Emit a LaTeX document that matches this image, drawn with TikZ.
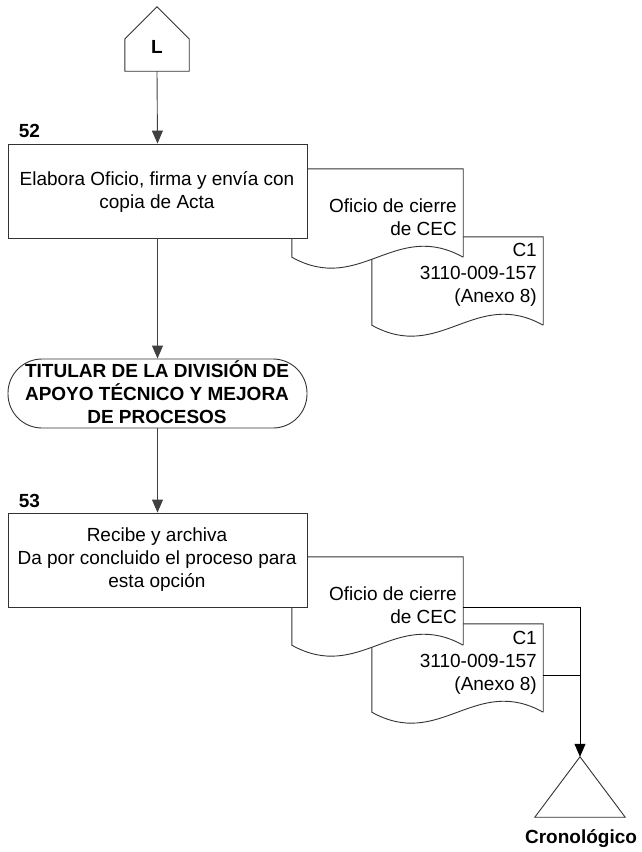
\documentclass[tikz,border=0pt]{standalone}
\usepackage{fontspec}
\setmainfont{Liberation Sans}
\usetikzlibrary{arrows.meta,calc}
\begin{document}
\begin{tikzpicture}[x=1pt,y=-1pt,
  txt/.style={font=\fontsize{19}{23}\selectfont, inner sep=0pt},
  btxt/.style={font=\fontsize{19}{23}\selectfont\bfseries, inner sep=0pt},
  stepbox/.style={draw=black!80, line width=0.9pt, fill=white, minimum width=299pt, minimum height=94pt, inner sep=0pt},
  area/.style={draw=none, inner sep=0pt},
  docline/.style={draw=black!80, line width=0.9pt, fill=white},
  flow/.style={draw=black!75, line width=0.9pt, -{Triangle[length=13pt,width=11pt]}},
  link/.style={draw=black, line width=1pt},
]
\useasboundingbox (0,0) rectangle (642,852);

% off-page connector
\node[area, minimum width=64pt, minimum height=64pt] (offpage) at (157,39) {};
\draw[docline] (offpage.south west) -- (offpage.west) -- (offpage.north)
  -- (offpage.east) -- (offpage.south east) -- cycle;
\node[btxt] (Lbl) at (157,47) {L};

% step 52 with its documents
\node[area, minimum width=171pt, minimum height=88pt] (d2) at (457.5,281) {};
\draw[docline] (d2.south east) -- (d2.north east) -- (d2.north west) -- (d2.south west)
  .. controls +(68.4,38) and +(-68.4,-38) .. (d2.south east);
\node[txt, align=right, anchor=east] (t2) at (537,275) {C1\\3110-009-157\\(Anexo 8)};

\node[area, minimum width=171pt, minimum height=88pt] (d1) at (377.5,213) {};
\draw[docline] (d1.south east) -- (d1.north east) -- (d1.north west) -- (d1.south west)
  .. controls +(68.4,38) and +(-68.4,-38) .. (d1.south east);
\node[txt, align=right, anchor=east] (t1) at (457,217.5) {Oficio de cierre\\de CEC};

\node[stepbox] (b52) at (157.5,191) {};
\node[txt, align=center] (t52) at (157,192) {Elabora Oficio, firma y envía con\\copia de Acta};
\node[btxt, anchor=base] (n52) at (29.5,137) {52};

% responsible area
\node[draw=black!80, line width=0.9pt, fill=white, rounded corners=34pt,
  minimum width=299pt, minimum height=69pt, inner sep=0pt] (term) at (157.5,393.5) {};
\node[btxt, align=center] (tterm) at (157,392.5)
  {TITULAR DE LA DIVISIÓN DE\\APOYO TÉCNICO Y MEJORA\\DE PROCESOS};

% step 53 with its documents
\node[area, minimum width=171pt, minimum height=88pt] (d4) at (457.5,668) {};
\draw[docline] (d4.south east) -- (d4.north east) -- (d4.north west) -- (d4.south west)
  .. controls +(68.4,38) and +(-68.4,-38) .. (d4.south east);
\node[txt, align=right, anchor=east] (t4) at (537,663) {C1\\3110-009-157\\(Anexo 8)};

\node[area, minimum width=171pt, minimum height=88pt] (d3) at (377.5,601) {};
\draw[docline] (d3.south east) -- (d3.north east) -- (d3.north west) -- (d3.south west)
  .. controls +(68.4,38) and +(-68.4,-38) .. (d3.south east);
\node[txt, align=right, anchor=east] (t3) at (457,605.5) {Oficio de cierre\\de CEC};

\node[stepbox] (b53) at (157.5,560) {};
\node[txt, align=center] (t53) at (157,560)
  {Recibe y archiva\\Da por concluido el proceso para\\esta opción};
\node[btxt, anchor=base] (n53) at (29.5,507) {53};

% file
\node[area, minimum width=90pt, minimum height=60pt] (tri) at (580,787) {};
\draw[docline] (tri.north) -- (tri.south east) -- (tri.south west) -- cycle;
\node[btxt, anchor=base] (tcron) at (581,843) {Cronológico};

% connectors
\draw[flow] (offpage.south) -- (b52.north);
\draw[flow] (b52.south) -- (term.north);
\draw[flow] (term.south) -- (b53.north);
\coordinate (o3) at ($(d3.north east)!0.57!(d3.south east)$);
\coordinate (o4) at ($(d4.north east)!0.59!(d4.south east)$);
\draw[link, -{Triangle[length=13pt,width=11pt]}] (o3) -| (tri.north);
\draw[link] (o4) -- (o4 -| tri.north);
\end{tikzpicture}
\end{document}
